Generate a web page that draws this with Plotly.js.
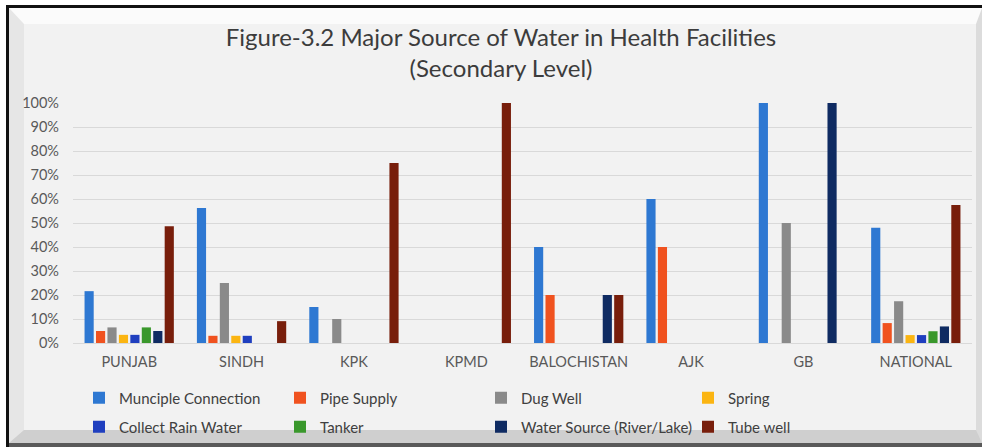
<!DOCTYPE html>
<html>
<head>
<meta charset="utf-8">
<script src="https://cdn.plot.ly/plotly-3.0.1.min.js"></script>
<style>
  html, body { margin: 0; padding: 0; background: #ffffff; }
  #wrap { position: relative; width: 982px; height: 447px; overflow: hidden; background: #ffffff; }
  #frame { position: absolute; left: 6px; top: 5px; width: 976px; height: 442px; box-sizing: border-box;
           border-top: 3px solid #111; border-left: 3px solid #111; background: #5a5a5a; }
  #bevel { position: absolute; left: 0; top: 0; right: 0; bottom: 4px; box-sizing: border-box;
           border-top: 16px solid #fbfbfb; border-left: 15px solid #e6e6e6;
           border-bottom: 13px solid #cfcfcf; border-right: 6px solid #dcdcdc; background: #f2f2f2; }
  #chart { position: absolute; left: 0; top: 0; width: 982px; height: 447px; }
</style>
</head>
<body>
<div id="wrap">
  <div id="frame"><div id="bevel"></div></div>
  <div id="chart"></div>
</div>
<script>
// Categories
var categories = ["PUNJAB", "SINDH", "KPK", "KPMD", "BALOCHISTAN", "AJK", "GB", "NATIONAL"];

// Series values (percent)
var muncipleConnection = [21.6, 56.3, 15, 0, 40, 60, 100, 48];
var pipeSupply         = [5, 3, 0, 0, 20, 40, 0, 8.3];
var dugWell            = [6.5, 25, 10, 0, 0, 0, 50, 17.4];
var spring             = [3.4, 3, 0, 0, 0, 0, 0, 3.3];
var collectRainWater   = [3.4, 3, 0, 0, 0, 0, 0, 3.3];
var tanker             = [6.5, 0, 0, 0, 0, 0, 0, 4.9];
var waterSource        = [5, 0, 0, 0, 20, 0, 100, 6.9];
var tubeWell           = [48.6, 9.1, 75, 100, 20, 0, 0, 57.5];

var seriesNames = ["Munciple Connection", "Pipe Supply", "Dug Well", "Spring",
                   "Collect Rain Water", "Tanker", "Water Source (River/Lake)", "Tube well"];
var seriesValues = [muncipleConnection, pipeSupply, dugWell, spring,
                    collectRainWater, tanker, waterSource, tubeWell];
var seriesColors = ["#2e78d2", "#f0521f", "#8a8a8a", "#fbb512",
                    "#1f3fbf", "#3a982c", "#0f2b62", "#781e0b"];

var FONT = "Lato, 'Open Sans', sans-serif";

var legendIds = ["legend", "legend2", "legend3", "legend4", "legend5", "legend6", "legend7", "legend8"];

var traces = seriesNames.map(function (name, i) {
  return {
    type: "bar",
    name: name,
    x: categories,
    y: seriesValues[i],
    marker: { color: seriesColors[i] },
    legend: legendIds[i],
    hoverinfo: "x+y+name"
  };
});

var legendXs = [79, 280, 481, 688];
var legendYs = [398, 427];

var layout = {
  width: 982,
  height: 447,
  paper_bgcolor: "rgba(0,0,0,0)",
  plot_bgcolor: "rgba(0,0,0,0)",
  margin: { l: 73, r: 10, t: 103, b: 104, autoexpand: false },
  barmode: "group",
  bargap: 0.185,
  bargroupgap: 0.2,
  title: {
    text: "Figure-3.2 Major Source of Water in Health Facilities<br>(Secondary Level)",
    font: { family: FONT, size: 24, color: "#3c3c3c" },
    x: 501 / 982,
    xanchor: "center",
    xref: "container",
    y: 1 - 46 / 447,
    yref: "container",
    yanchor: "middle"
  },
  xaxis: {
    type: "category",
    showgrid: false,
    showline: true,
    linecolor: "#d9d9d9",
    linewidth: 1,
    ticks: "",
    tickfont: { family: FONT, size: 14.5, color: "#595959" },
    ticklabelstandoff: 6,
    fixedrange: true
  },
  yaxis: {
    range: [0, 100],
    dtick: 10,
    ticksuffix: "%",
    showgrid: true,
    gridcolor: "#d9d9d9",
    gridwidth: 1,
    zeroline: false,
    ticks: "",
    tickfont: { family: FONT, size: 14.5, color: "#595959" },
    ticklabelstandoff: 13,
    fixedrange: true
  },
  showlegend: true
};

legendIds.forEach(function (id, i) {
  layout[id] = {
    orientation: "h",
    xref: "container",
    yref: "container",
    xanchor: "left",
    yanchor: "middle",
    x: legendXs[i % 4] / 982,
    y: 1 - legendYs[Math.floor(i / 4)] / 447,
    font: { family: FONT, size: 15, color: "#404040" },
    bgcolor: "rgba(0,0,0,0)",
    itemclick: false,
    itemdoubleclick: false
  };
});

Plotly.newPlot("chart", traces, layout, { displayModeBar: false, responsive: false });
</script>
</body>
</html>
